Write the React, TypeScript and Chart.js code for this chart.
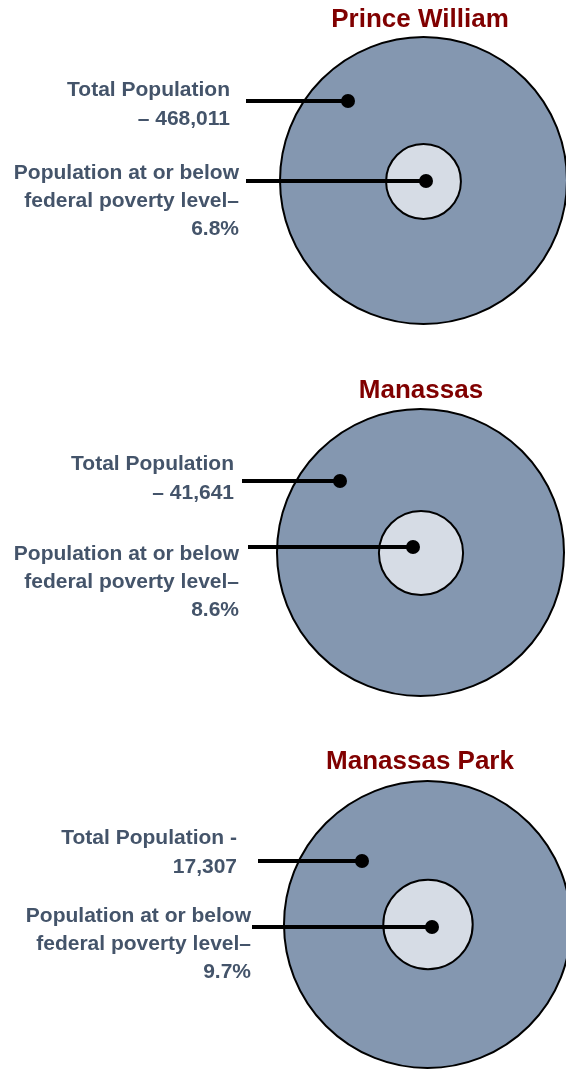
import React, { useEffect, useRef } from "react";
import { Chart, registerables } from "chart.js";

Chart.register(...registerables);

// ---- data ----
const regions = ["Prince William", "Manassas", "Manassas Park"];
const totalPopulation = [468011, 41641, 17307];
const povertyRate = [6.8, 8.6, 9.7]; // percent of population at or below federal poverty level

// ---- layout (positions in canvas pixels) ----
const W = 566;
const H = 1069;
const BIG_R = 143.5;
const panelLayout = [
  { titleX: 420, titleY: 27, big: [423.5, 180.5], small: [423.5, 181.5], totalDot: [348, 101], povDot: [426, 181], totalLineX: 246, povLineX: 246, totalTextX: 230, totalTextY: 96, povTextX: 239, povTextY: 179, totalDash: true },
  { titleX: 421, titleY: 398, big: [420.5, 552.5], small: [421, 553], totalDot: [340, 481], povDot: [413, 547], totalLineX: 242, povLineX: 248, totalTextX: 234, totalTextY: 470, povTextX: 239, povTextY: 560, totalDash: true },
  { titleX: 420, titleY: 769, big: [427.5, 924.5], small: [428, 924.5], totalDot: [362, 861], povDot: [432, 927], totalLineX: 258, povLineX: 252, totalTextX: 237, totalTextY: 844, povTextX: 251, povTextY: 922, totalDash: false },
];

const TEXT_COLOR = "#44546A";
const TITLE_COLOR = "#800000";
const BIG_FILL = "#8497B0";
const SMALL_FILL = "#D6DCE5";
const FONT = "'Liberation Sans', Arial, sans-serif";

const totalLabel = (i: number) => {
  const n = totalPopulation[i].toLocaleString("en-US");
  return panelLayout[i].totalDash ? ["Total Population", "– " + n] : ["Total Population -", n];
};
const povLabel = (i: number) => ["Population at or below", "federal poverty level–", povertyRate[i].toFixed(1) + "%"];

const labelPlugin = {
  id: "panelLabels",
  afterDatasetsDraw(chart: any) {
    const { ctx, scales } = chart;
    const px = (v: number) => scales.x.getPixelForValue(v);
    const py = (v: number) => scales.y.getPixelForValue(v);
    ctx.save();
    ctx.textBaseline = "alphabetic";
    regions.forEach((name, i) => {
      const L = panelLayout[i];
      ctx.fillStyle = TITLE_COLOR;
      ctx.font = `bold 26px ${FONT}`;
      ctx.textAlign = "center";
      ctx.fillText(name, px(L.titleX), py(L.titleY));

      ctx.fillStyle = TEXT_COLOR;
      ctx.font = `bold 21px ${FONT}`;
      ctx.textAlign = "right";
      totalLabel(i).forEach((t, k) => ctx.fillText(t, px(L.totalTextX), py(L.totalTextY + k * 28.5)));
      povLabel(i).forEach((t, k) => ctx.fillText(t, px(L.povTextX), py(L.povTextY + k * 28)));
    });
    ctx.restore();
  },
};

export default function App() {
  const ref = useRef<HTMLCanvasElement>(null);
  useEffect(() => {
    if (!ref.current) return;
    const lineSets: any[] = [];
    regions.forEach((_, i) => {
      const L = panelLayout[i];
      lineSets.push({
        type: "line",
        data: [{ x: L.totalLineX, y: L.totalDot[1] }, { x: L.totalDot[0], y: L.totalDot[1] }],
        borderColor: "#000",
        borderWidth: 4,
        pointRadius: 0,
        fill: false,
        order: 2,
      });
      lineSets.push({
        type: "line",
        data: [{ x: L.povLineX, y: L.povDot[1] }, { x: L.povDot[0], y: L.povDot[1] }],
        borderColor: "#000",
        borderWidth: 4,
        pointRadius: 0,
        fill: false,
        order: 2,
      });
    });
    const chart = new Chart(ref.current, {
      type: "bubble",
      data: {
        datasets: [
          {
            label: "Total Population",
            data: regions.map((_, i) => ({ x: panelLayout[i].big[0], y: panelLayout[i].big[1], r: BIG_R })),
            backgroundColor: BIG_FILL,
            borderColor: "#000",
            borderWidth: 2,
            order: 4,
          },
          {
            label: "Population at or below federal poverty level",
            data: regions.map((_, i) => ({
              x: panelLayout[i].small[0],
              y: panelLayout[i].small[1],
              r: BIG_R * Math.sqrt(povertyRate[i] / 100),
            })),
            backgroundColor: SMALL_FILL,
            borderColor: "#000",
            borderWidth: 2,
            order: 3,
          },
          ...lineSets,
          {
            label: "dots",
            data: regions.flatMap((_, i) => [
              { x: panelLayout[i].totalDot[0], y: panelLayout[i].totalDot[1], r: 7 },
              { x: panelLayout[i].povDot[0], y: panelLayout[i].povDot[1], r: 7 },
            ]),
            backgroundColor: "#000",
            borderColor: "#000",
            borderWidth: 0,
            order: 1,
          },
        ],
      },
      options: {
        responsive: false,
        animation: false,
        events: [],
        layout: { padding: 0, autoPadding: false },
        clip: false as any,
        plugins: { legend: { display: false }, tooltip: { enabled: false }, title: { display: false } },
        scales: {
          x: { type: "linear", min: 0, max: W, display: false },
          y: { type: "linear", min: 0, max: H, reverse: true, display: false },
        },
      },
      plugins: [labelPlugin],
    });
    return () => chart.destroy();
  }, []);
  return (
    <div style={{ position: "absolute", left: 0, top: 0, width: W, height: H, background: "#fff" }}>
      <canvas ref={ref} width={W} height={H} style={{ width: W, height: H, display: "block" }} />
    </div>
  );
}
